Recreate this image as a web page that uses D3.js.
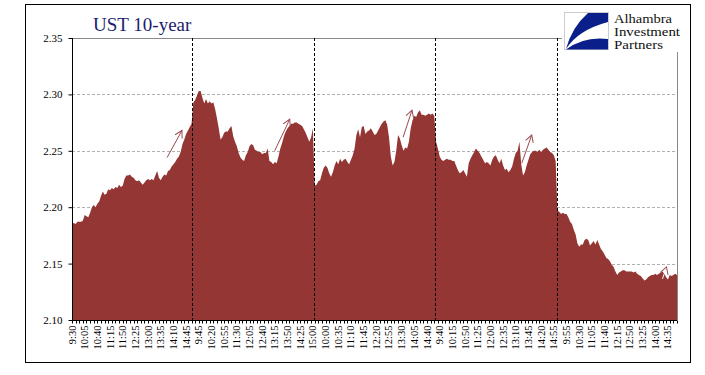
<!DOCTYPE html>
<html>
<head>
<meta charset="utf-8">
<script src="https://cdn.jsdelivr.net/npm/d3@7"></script>
<style>
  body { margin: 0; background: #fff; }
  text { font-family: "Liberation Serif", "DejaVu Serif", serif; }
</style>
</head>
<body>
<svg width="705" height="375"></svg>
<script>
// 5-minute yields, one array per trading day (9:30 - 15:00)
const day1 = [2.185,2.186,2.185,2.187,2.187,2.187,2.188,2.193,2.192,2.191,2.195,2.200,2.202,2.200,2.203,2.205,2.210,2.214,2.211,2.212,
  2.216,2.215,2.217,2.216,2.218,2.217,2.220,2.218,2.219,2.225,2.228,2.228,2.229,2.227,2.226,2.224,2.223,2.224,2.222,2.220,
  2.222,2.224,2.225,2.224,2.225,2.224,2.228,2.232,2.226,2.224,2.227,2.229,2.228,2.232,2.233,2.236,2.238,2.240,2.243,2.245,
  2.249,2.256,2.260,2.265,2.268,2.271,2.274];
const day2 = [2.293,2.295,2.299,2.303,2.303,2.297,2.292,2.296,2.292,2.294,2.292,2.293,2.287,2.279,2.270,2.260,2.262,2.266,2.267,2.267,
  2.270,2.272,2.263,2.258,2.254,2.248,2.244,2.242,2.241,2.246,2.249,2.254,2.256,2.255,2.251,2.250,2.249,2.249,2.247,2.248,
  2.248,2.252,2.241,2.240,2.238,2.240,2.239,2.245,2.252,2.257,2.263,2.267,2.270,2.272,2.274,2.274,2.275,2.275,2.274,2.273,
  2.272,2.269,2.266,2.262,2.258,2.262,2.270];
const day3 = [2.219,2.220,2.223,2.224,2.230,2.235,2.237,2.235,2.230,2.227,2.231,2.237,2.241,2.238,2.243,2.240,2.242,2.243,2.240,2.238,
  2.242,2.246,2.252,2.264,2.269,2.262,2.271,2.272,2.265,2.267,2.268,2.270,2.267,2.264,2.265,2.268,2.271,2.274,2.276,2.277,
  2.273,2.262,2.245,2.237,2.240,2.250,2.264,2.261,2.255,2.250,2.253,2.252,2.258,2.270,2.277,2.281,2.280,2.284,2.286,2.282,
  2.282,2.281,2.282,2.283,2.282,2.283,2.281];
const day4 = [2.258,2.252,2.245,2.242,2.241,2.242,2.243,2.242,2.242,2.241,2.241,2.237,2.233,2.230,2.231,2.233,2.230,2.227,2.239,2.243,
  2.246,2.249,2.252,2.250,2.248,2.245,2.242,2.239,2.240,2.239,2.237,2.242,2.245,2.246,2.242,2.239,2.243,2.237,2.233,2.234,
  2.231,2.233,2.236,2.243,2.248,2.250,2.258,2.238,2.228,2.231,2.237,2.242,2.247,2.249,2.250,2.250,2.249,2.251,2.249,2.251,
  2.252,2.253,2.251,2.249,2.248,2.246,2.241];
const day5 = [2.197,2.196,2.194,2.195,2.194,2.194,2.191,2.187,2.185,2.180,2.176,2.168,2.165,2.167,2.167,2.171,2.172,2.171,2.166,2.168,
  2.170,2.167,2.171,2.167,2.163,2.161,2.158,2.155,2.154,2.152,2.149,2.147,2.143,2.140,2.142,2.143,2.144,2.144,2.143,2.143,
  2.143,2.143,2.142,2.143,2.141,2.140,2.139,2.137,2.135,2.136,2.138,2.139,2.140,2.140,2.141,2.140,2.141,2.142,2.143,2.141,
  2.138,2.136,2.140,2.139,2.140,2.141,2.140];

// category labels, one every 7 points
const tickLabels = ["9:30","10:05","10:40","11:15","11:50","12:25","13:00","13:35","14:10","14:45",
  "9:45","10:20","10:55","11:30","12:05","12:40","13:15","13:50","14:25","15:00",
  "10:00","10:35","11:10","11:45","12:20","12:55","13:30","14:05","14:40",
  "9:40","10:15","10:50","11:25","12:00","12:35","13:10","13:45","14:20","14:55",
  "9:55","10:30","11:05","11:40","12:15","12:50","13:25","14:00","14:35"];
const labelStep = 7;
const yTicks = [2.10, 2.15, 2.20, 2.25, 2.30, 2.35];

// hand-drawn arrows: [fromIndex, fromValue, toIndex, toValue]
const arrows = [
  [52.5, 2.244, 60.7, 2.268],
  [111.9, 2.250, 120.2, 2.278],
  [182.8, 2.262, 187.7, 2.286],
  [248.3, 2.239, 253.8, 2.264],
  [326.0, 2.1365, 328.2, 2.147]
];

const days = [day1, day2, day3, day4, day5];
const values = [].concat(...days);

const svg = d3.select("svg");
const mLeft = 72, mRight = 677, mTop = 38, mBottom = 320;

const x = d3.scalePoint().domain(d3.range(values.length)).range([mLeft, mRight]);
const y = d3.scaleLinear().domain([2.10, 2.35]).range([mBottom, mTop]);
const step = x.step();

// outer frame
svg.append("rect")
  .attr("x", 25.5).attr("y", 4.5).attr("width", 665).attr("height", 358)
  .attr("fill", "none").attr("stroke", "#000");

// grid lines
svg.append("g").selectAll("line")
  .data(yTicks.slice(1, -1))
  .join("line")
  .attr("x1", mLeft).attr("x2", mRight)
  .attr("y1", d => Math.round(y(d)) + 0.5).attr("y2", d => Math.round(y(d)) + 0.5)
  .attr("stroke", "#b0b0b0").attr("stroke-dasharray", "3,2");

// area
const area = d3.area()
  .x((d, i) => x(i))
  .y0(y(2.10))
  .y1(d => y(d));

svg.append("path")
  .datum(values)
  .attr("d", area)
  .attr("fill", "#943634");

// plot border top and right
svg.append("line")
  .attr("x1", mLeft).attr("x2", 562).attr("y1", y(2.35) + 0.5).attr("y2", y(2.35) + 0.5)
  .attr("stroke", "#888");
svg.append("line")
  .attr("x1", mRight + 0.5).attr("x2", mRight + 0.5).attr("y1", 52).attr("y2", mBottom)
  .attr("stroke", "#888");

// day separators
let bounds = [], acc = 0;
days.slice(0, -1).forEach(d => { acc += d.length; bounds.push(acc); });
svg.append("g").selectAll("line")
  .data(bounds)
  .join("line")
  .attr("x1", d => Math.round(x(d) - step / 2) + 0.5)
  .attr("x2", d => Math.round(x(d) - step / 2) + 0.5)
  .attr("y1", y(2.35)).attr("y2", mBottom)
  .attr("stroke", "#000").attr("stroke-dasharray", "3,2");

// arrows
svg.append("defs").append("marker")
  .attr("id", "head")
  .attr("markerUnits", "userSpaceOnUse")
  .attr("markerWidth", 10).attr("markerHeight", 10)
  .attr("refX", 8).attr("refY", 5)
  .attr("orient", "auto")
  .append("path")
  .attr("d", "M1,1 L8,5 L1,9")
  .attr("fill", "none").attr("stroke", "#9b4a50").attr("stroke-width", 1);

svg.append("g").selectAll("line")
  .data(arrows)
  .join("line")
  .attr("x1", d => mLeft + d[0] * step).attr("y1", d => y(d[1]))
  .attr("x2", d => mLeft + d[2] * step).attr("y2", d => y(d[3]))
  .attr("stroke", (d, i) => i === arrows.length - 1 ? "#fff" : "#9b4a50")
  .attr("stroke-width", 1)
  .attr("marker-end", "url(#head)");

// y axis
const yAxis = svg.append("g")
  .attr("transform", `translate(${mLeft + 0.5},0)`)
  .call(d3.axisLeft(y).tickValues(yTicks).tickFormat(d3.format(".2f")).tickSize(4).tickPadding(6));
yAxis.select(".domain").attr("stroke", "#000").attr("d", `M0,${mTop}V${mBottom}`);
yAxis.selectAll("text").attr("font-size", 11).attr("font-family", "Liberation Serif").attr("fill", "#000");

// x axis
const xg = svg.append("g").attr("transform", `translate(0,${mBottom + 0.5})`);
xg.append("line").attr("x1", mLeft).attr("x2", mRight).attr("stroke", "#000");
xg.selectAll(".tk")
  .data(d3.range(0, values.length, 2))
  .join("line")
  .attr("class", "tk")
  .attr("x1", i => Math.round(x(i)) + 0.5).attr("x2", i => Math.round(x(i)) + 0.5)
  .attr("y1", 0).attr("y2", 3)
  .attr("stroke", "#000");
xg.selectAll(".lbl")
  .data(tickLabels)
  .join("text")
  .attr("class", "lbl")
  .attr("transform", (d, i) => `translate(${x(i * labelStep) + 3.5},5) rotate(-90)`)
  .attr("text-anchor", "end")
  .attr("font-size", 10.5)
  .attr("fill", "#000")
  .text(d => d);

// title
svg.append("text")
  .attr("x", 93).attr("y", 31)
  .attr("font-size", 19)
  .attr("fill", "#1c1c6e")
  .text("UST 10-year");

// logo
const logo = svg.append("g");
logo.append("rect")
  .attr("x", 564.5).attr("y", 12.5).attr("width", 44).attr("height", 37)
  .attr("fill", "#fff").attr("stroke", "#ccc");
logo.append("path")
  .attr("d", "M608,13 L588,13 Q572,27 566,49 Q578,30 608,22 Z")
  .attr("fill", "#0a1f8a");
logo.append("path")
  .attr("d", "M566,49.5 Q584,36 608,39 L608,49.5 Z")
  .attr("fill", "#0a1f8a");
logo.selectAll("text")
  .data([["Alhambra", 58], ["Investment", 66], ["Partners", 49]])
  .join("text")
  .attr("x", 614).attr("y", (d, i) => 23 + i * 13)
  .attr("font-size", 12)
  .attr("textLength", d => d[1])
  .attr("lengthAdjust", "spacingAndGlyphs")
  .attr("fill", "#111")
  .text(d => d[0]);
</script>
</body>
</html>
